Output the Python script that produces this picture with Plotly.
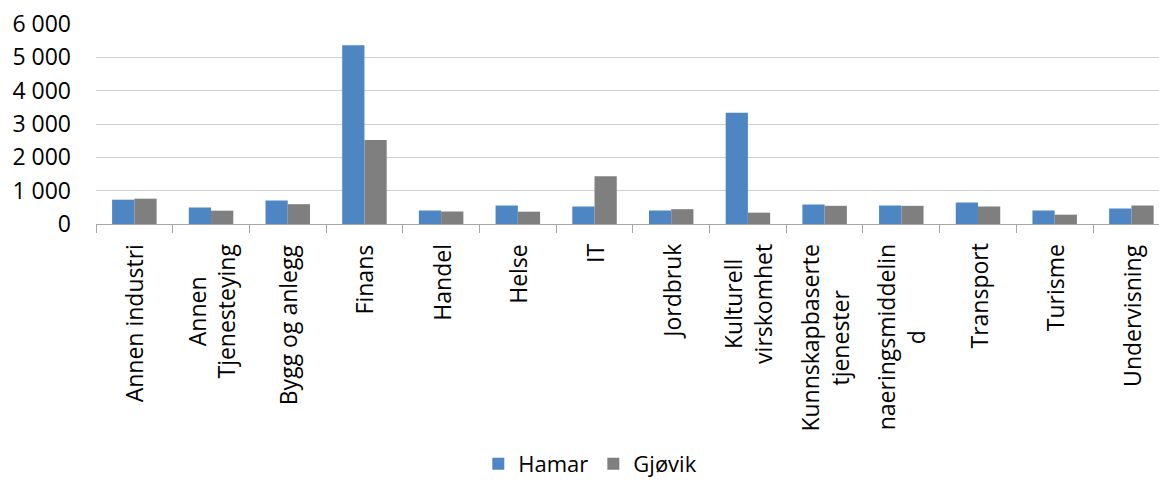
import plotly.graph_objects as go

# Employment-related figures per industry for Hamar and Gjøvik
categories = [
    "Annen industri", "Annen<br>Tjenesteying", "Bygg og anlegg", "Finans",
    "Handel", "Helse", "IT", "Jordbruk", "Kulturell<br>virskomhet",
    "Kunnskapbaserte<br>tjenester", "naeringsmiddelin<br>d", "Transport",
    "Turisme", "Undervisning",
]
keys = [c.replace("<br>", " ") for c in categories]
hamar = [730, 495, 705, 5360, 405, 555, 525, 405, 3340, 585, 555, 645, 405, 465]
gjovik = [760, 400, 595, 2520, 375, 370, 1435, 445, 340, 545, 545, 525, 280, 555]

y_ticks = [0, 1000, 2000, 3000, 4000, 5000, 6000]
y_tick_labels = ["0", "1 000", "2 000", "3 000", "4 000", "5 000", "6 000"]

FONT = "Open Sans"
BLUE = "#4d86c3"
GREY = "#7f7f7f"

fig = go.Figure()
fig.add_trace(go.Bar(x=keys, y=hamar, name="Hamar",
                     marker=dict(color=BLUE, line=dict(width=0))))
fig.add_trace(go.Bar(x=keys, y=gjovik, name="Gjøvik",
                     marker=dict(color=GREY, line=dict(width=0))))

# Category labels: rotated, with lines centred on each other
for key, label in zip(keys, categories):
    fig.add_annotation(
        x=key, y=0, xref="x", yref="y", text=label, textangle=-90,
        showarrow=False, xanchor="center", yanchor="top", yshift=-18,
        align="center", font=dict(family=FONT, size=23, color="#000000"),
    )

fig.update_layout(
    width=1159, height=485,
    margin=dict(l=96, r=0, t=24, b=258),
    paper_bgcolor="white", plot_bgcolor="white",
    barmode="group", bargap=0.42, bargroupgap=0.0,
    showlegend=True,
    legend=dict(orientation="h", x=0.465, y=-1.2, xanchor="center",
                yanchor="middle", font=dict(family=FONT, size=22, color="#000000"),
                itemsizing="constant", traceorder="normal"),
    font=dict(family=FONT, size=23, color="#000000"),
)
fig.update_xaxes(
    type="category", range=[-0.5, 13.36], showticklabels=False,
    ticks="outside", tickson="boundaries", ticklen=8, tickcolor="#a6a6a6",
    showline=True, linecolor="#a6a6a6", linewidth=1, showgrid=False,
)
fig.update_yaxes(
    range=[0, 6000], tickvals=y_ticks, ticktext=y_tick_labels,
    showgrid=True, gridcolor="#d0d0d0", gridwidth=1, zeroline=False,
    showline=False, ticks="", ticklabelstandoff=24,
    tickfont=dict(family=FONT, size=23, color="#000000"),
)

fig.write_html("out.html")
